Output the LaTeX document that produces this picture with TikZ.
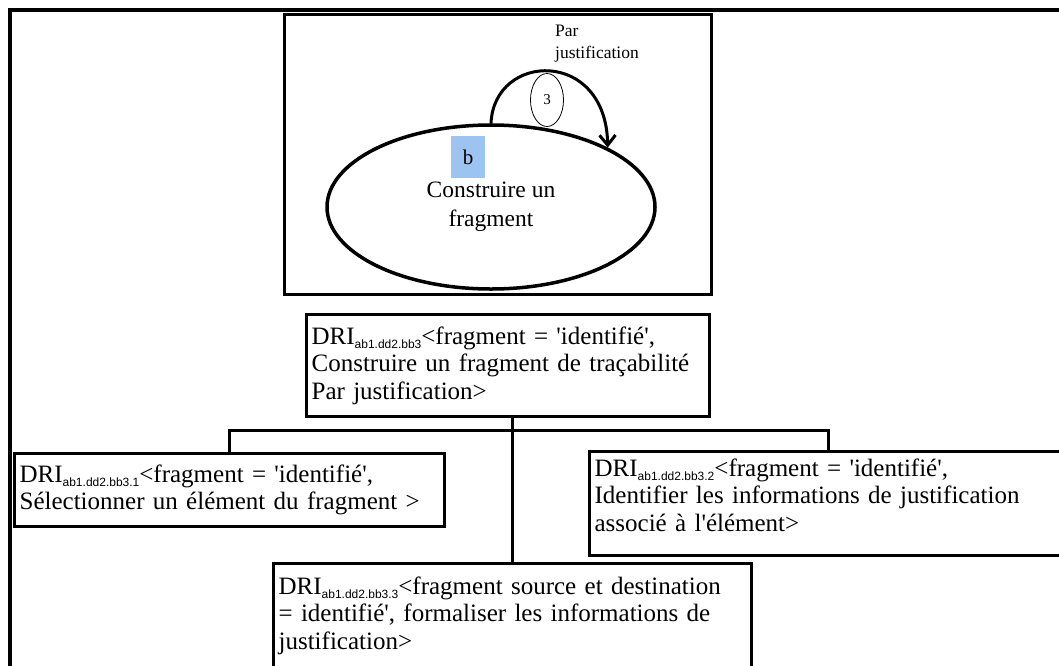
\documentclass[tikz,border=0pt]{standalone}
\usepackage{fontspec}
\setmainfont{Liberation Serif}[Ligatures=TeXOff]
\newfontfamily\subfont{Liberation Sans}
\usetikzlibrary{arrows.meta,shapes.geometric}
\definecolor{tagblue}{HTML}{9DC3F0}
\newcommand{\dri}[1]{DRI\raisebox{-4pt}{\subfont\fontsize{12}{12}\selectfont #1}}
\tikzset{
  every picture/.style={line cap=round, >=Stealth},
  frame/.style={draw, line width=3pt, anchor=north west, inner sep=0pt},
  dribox/.style={draw, line width=3.2pt, anchor=north west, align=left,
    inner xsep=5pt, inner ysep=4pt, font=\fontsize{25}{27.5}\selectfont},
  link/.style={line width=3pt},
}
\begin{document}
\begin{tikzpicture}[x=1pt,y=-1pt]
\useasboundingbox (0,0) rectangle (1059,665);
\fill[white] (0,0) rectangle (1059,665);
% outer frame
\draw[line width=4pt,line cap=butt] (10,700) -- (10,10) -- (1100,10);
% use case
\node[frame, minimum width=427pt, minimum height=280pt] (scene) at (283,13) {};
\node[draw, ellipse, line width=3.5pt, minimum width=328pt, minimum height=164pt,
  align=center, font=\fontsize{23.5}{29}\selectfont] (task) at (491,207) {Construire un\\fragment};
\node[fill=tagblue, minimum width=34pt, minimum height=42pt, inner sep=0pt,
  font=\fontsize{21}{21}\selectfont] (tag) at (468,157) {b};
\draw[line width=3pt, -{Straight Barb[length=10pt,width=16pt]}]
  (task.north) .. controls (494,52) and (606,48) .. (task.27);
\node[draw, ellipse, line width=0.8pt, minimum width=33pt, minimum height=53pt,
  inner sep=0pt, font=\fontsize{15}{15}\selectfont] (badge) at (547,100) {3};
\node[anchor=north west, align=left, inner sep=0pt,
  font=\fontsize{17.5}{22}\selectfont] (par) at (555,25) {Par\\justification};
% decomposition
\node[dribox, text width=393pt, minimum height=102pt] (mid) at (305,313)
  {\dri{ab1.dd2.bb3}<fragment = 'identifié',\\Construire un fragment de traçabilité\\Par justification>};
\node[dribox, text width=420pt, minimum height=73pt] (left) at (13,452)
  {\dri{ab1.dd2.bb3.1}<fragment = 'identifié',\\Sélectionner un élément du fragment >};
\node[dribox, text width=467pt, minimum height=104pt] (right) at (588,450)
  {\dri{ab1.dd2.bb3.2}<fragment = 'identifié',\\Identifier les informations de justification\\associé à l'élément>\\[-10pt]\mbox{}};
\node[dribox, text width=468pt, minimum height=104pt] (bot) at (272,562)
  {\dri{ab1.dd2.bb3.3}<fragment source et destination\\= identifié', formaliser les informations de\\justification>};
\coordinate (split) at (511,430);
\draw[link] (bot.north) -- (bot.north |- mid.south);
\draw[link] (left.north) |- (split) -| (right.north);
\end{tikzpicture}
\end{document}
